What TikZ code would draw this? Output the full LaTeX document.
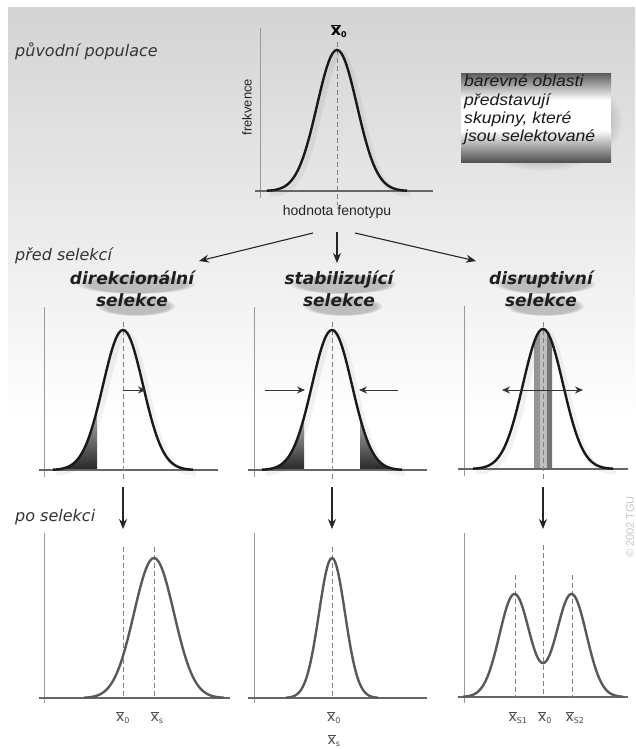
\documentclass[tikz,border=0pt]{standalone}
\usepackage{fontspec}
\setmainfont{DejaVu Sans}
\newfontfamily\libfont{Liberation Sans}
\newfontfamily\legfont{Liberation Sans}[FakeStretch=1.1]
\usetikzlibrary{arrows.meta,fadings}
\newcommand\xb[1]{\ensuremath{\overline{\mbox{x}}_{\mbox{\fontsize{8}{8}\selectfont #1}}}}
\newcommand\shtext[4]{%
  \fill[black, opacity=.22, path fading=circle with fuzzy edge 20 percent]
     ([shift={(4,-5)}]#1) ellipse ({#4} and 10);
  \fill[black, opacity=.22, path fading=circle with fuzzy edge 20 percent]
     ([shift={(4,17)}]#1) ellipse (40 and 10);
  \node[head] (#2) at (#1) {#3};}
\begin{document}
\begin{tikzpicture}[x=1pt,y=-1pt,
 axisy/.style={draw=black!40, line width=0.6pt},
 axisx/.style={draw=black!60, line width=1.3pt},
 dashln/.style={draw=black!50, line width=0.8pt, dash pattern=on 5pt off 3pt},
 curvea/.style={draw=black!90, line width=2.4pt},
 curveb/.style={draw=black!65, line width=2.4pt},
 cshadow/.style={draw=black, opacity=.05, line width=6pt},
 arr/.style={-{Stealth[length=10pt,width=8pt]}, line width=1.1pt, draw=black!85},
 sarr/.style={-{Stealth[length=8pt,width=7pt]}, line width=1pt, draw=black!80},
 darr/.style={{Stealth[length=8pt,width=7pt]}-{Stealth[length=8pt,width=7pt]}, line width=1pt, draw=black!80},
 lab/.style={font=\fontsize{16}{19}\selectfont\itshape, text=black!80, anchor=west, inner sep=0},
 head/.style={font=\fontsize{17}{22}\selectfont\bfseries\itshape, align=center, text=black!88, inner sep=0},
 xlab/.style={font=\fontsize{14}{16}\selectfont, text=black!70, inner sep=1pt}
]
\useasboundingbox (0,0) rectangle (635,749);
\fill[white] (0,0) rectangle (635,749);
\shade[top color=black!17, bottom color=white] (8,8) rectangle (635,420);

% ---------- top graph ----------
\draw[axisy] (260,28) -- (260,198);
\draw[cshadow] plot[domain=-70:70,samples=71,smooth] ({340+\x},{194-141*exp(-((\x)*(\x))/800)});
\draw[axisx] (255,191) -- (433,191);
\draw[dashln] (337,42) -- (337,205);
\draw[curvea] plot[domain=-70:70,samples=71,smooth] ({337+\x},{191-141*exp(-((\x)*(\x))/800)});
\node[font=\fontsize{16}{18}\selectfont\bfseries, inner sep=0] (x0top) at (339,31) {\xb{0}};
\node[font=\libfont\fontsize{13}{15}\selectfont, rotate=90, text=black!85] (frek) at (247,107) {frekvence};
\node[font=\libfont\fontsize{14}{16}\selectfont, text=black!85] (hodn) at (337,212) {hodnota fenotypu};
\node[lab] (puv) at (15,51) {původní populace};

% legend
\fill[black, opacity=.12, path fading=circle with fuzzy edge 15 percent] (541,121) ellipse (82 and 50);
\shade[top color=black!62, bottom color=white] (461,74) rectangle (611,100);
\fill[white] (461,100) rectangle (611,130);
\shade[top color=white, bottom color=black!68] (461,130) rectangle (611,162);
\node[font=\legfont\fontsize{16}{18.3}\selectfont\itshape, align=left, anchor=west, inner sep=0, text=black!90] (leg) at (464,110)
 {barevné oblasti\\představují\\skupiny, které\\jsou selektované};

% top arrows
\coordinate (tl) at (313,233); \coordinate (tc) at (337,232); \coordinate (tr) at (355,233);
\coordinate (el) at (199,261); \coordinate (ec) at (337,263); \coordinate (er) at (476,261);
\draw[arr] (tl) -- (el);
\draw[arr] (tc) -- (ec);
\draw[arr] (tr) -- (er);
\node[lab] (pred) at (15,256) {před selekcí};

% headings
\shtext{132,289}{h1}{direkcionální\\selekce}{60}
\shtext{339,289}{h2}{stabilizující\\selekce}{54}
\shtext{541,289}{h3}{disruptivní\\selekce}{51}

% ---------- middle row ----------
% graph 1
\draw[axisy] (44,307) -- (44,477);
\draw[cshadow] plot[domain=-70:70,samples=71,smooth] ({126+\x},{473-140*exp(-((\x)*(\x))/800)});
\shade[top color=black!30, bottom color=black!85] (53,470) -- plot[domain=-70:-26,samples=30,smooth] ({123+\x},{470-140*exp(-((\x)*(\x))/800)}) -- (97,470) -- cycle;
\draw[axisx] (39,470) -- (218,470);
\draw[dashln] (123,322) -- (123,482);
\draw[curvea] plot[domain=-70:70,samples=71,smooth] ({123+\x},{470-140*exp(-((\x)*(\x))/800)});
\coordinate (a1s) at (123,390); \coordinate (a1e) at (146,390);
\draw[sarr] (a1s) -- (a1e);

% graph 2
\draw[axisy] (254,307) -- (254,477);
\draw[cshadow] plot[domain=-70:70,samples=71,smooth] ({335+\x},{473-140*exp(-((\x)*(\x))/800)});
\shade[top color=black!30, bottom color=black!85] (262,470) -- plot[domain=-70:-28,samples=30,smooth] ({332+\x},{470-140*exp(-((\x)*(\x))/800)}) -- (304,470) -- cycle;
\shade[top color=black!30, bottom color=black!85] (360,470) -- plot[domain=28:70,samples=30,smooth] ({332+\x},{470-140*exp(-((\x)*(\x))/800)}) -- (402,470) -- cycle;
\draw[axisx] (248,470) -- (427,470);
\draw[dashln] (332,322) -- (332,482);
\draw[curvea] plot[domain=-70:70,samples=71,smooth] ({332+\x},{470-140*exp(-((\x)*(\x))/800)});
\coordinate (a2s) at (265,390); \coordinate (a2e) at (305,390);
\coordinate (a3s) at (398,390); \coordinate (a3e) at (359,390);
\draw[sarr] (a2s) -- (a2e);
\draw[sarr] (a3s) -- (a3e);

% graph 3
\draw[axisy] (464,306) -- (464,476);
\draw[cshadow] plot[domain=-70:70,samples=71,smooth] ({546+\x},{472-140*exp(-((\x)*(\x))/800)});
\fill[black!42] (534,469) -- plot[domain=-9:-3,samples=5] ({543+\x},{469-140*exp(-((\x)*(\x))/800)}) -- (540,469) -- cycle;
\fill[black!25] (540,469) -- plot[domain=-3:4,samples=5] ({543+\x},{469-140*exp(-((\x)*(\x))/800)}) -- (547,469) -- cycle;
\fill[black!55] (547,469) -- plot[domain=4:9,samples=5] ({543+\x},{469-140*exp(-((\x)*(\x))/800)}) -- (552,469) -- cycle;
\draw[axisx] (458,469) -- (628,469);
\draw[dashln] (543,322) -- (543,482);
\draw[curvea] plot[domain=-70:70,samples=71,smooth] ({543+\x},{469-140*exp(-((\x)*(\x))/800)});
\coordinate (a4s) at (502,390); \coordinate (a4e) at (583,390);
\draw[darr] (a4s) -- (a4e);

% down arrows
\coordinate (d1s) at (123,487); \coordinate (d1e) at (123,529);
\coordinate (d2s) at (332,487); \coordinate (d2e) at (332,529);
\coordinate (d3s) at (543,487); \coordinate (d3e) at (543,529);
\draw[arr] (d1s) -- (d1e);
\draw[arr] (d2s) -- (d2e);
\draw[arr] (d3s) -- (d3e);
\node[lab] (po) at (15,517) {po selekci};

% ---------- bottom row ----------
% graph 1
\draw[axisy] (44,533) -- (44,703);
\draw[axisx] (39,698) -- (230,698);
\draw[dashln] (123,547) -- (123,698);
\draw[dashln] (154,547) -- (154,698);
\draw[curveb] plot[domain=-70:70,samples=71,smooth] ({154+\x},{698-140*exp(-((\x)*(\x))/800)});
\node[xlab] (b1a) at (123,718) {\xb{0}};
\node[xlab] (b1b) at (157,718) {\xb{s}};

% graph 2
\draw[axisy] (254,533) -- (254,703);
\draw[axisx] (248,698) -- (427,698);
\draw[dashln] (332,547) -- (332,698);
\draw[curveb] plot[domain=-46:46,samples=61,smooth] ({332+\x},{698-140*exp(-((\x)*(\x))/338)});
\node[xlab] (b2a) at (334,718) {\xb{0}};
\node[xlab] (b2b) at (334,741) {\xb{s}};

% graph 3
\draw[axisy] (464,533) -- (464,703);
\draw[axisx] (458,697) -- (628,697);
\draw[dashln] (515,575) -- (515,697);
\draw[dashln] (572,575) -- (572,697);
\draw[dashln] (543,545) -- (543,697);
\draw[curveb] plot[domain=-80:80,samples=101,smooth] ({543+\x},{697-103*(exp(-((\x-28.5)*(\x-28.5))/450)+exp(-((\x+28.5)*(\x+28.5))/450))});
\node[xlab] (b3a) at (518,718) {\xb{S1}};
\node[xlab] (b3b) at (545,718) {\xb{0}};
\node[xlab] (b3c) at (575,718) {\xb{S2}};

% copyright
\node[font=\libfont\fontsize{11}{12}\selectfont, rotate=90, text=black!22] (copy) at (630,527) {© 2002 TGU};
\end{tikzpicture}
\end{document}
